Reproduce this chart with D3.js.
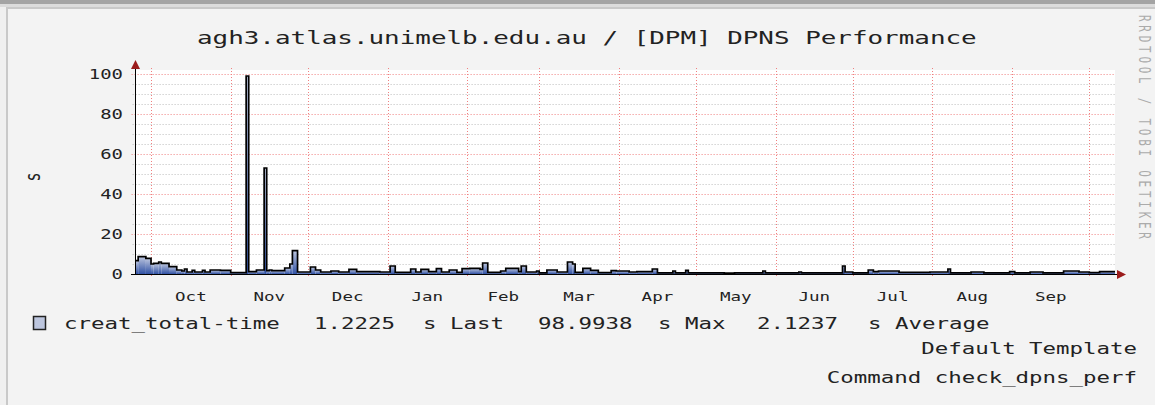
<!DOCTYPE html>
<meta charset="utf-8">
<body style="margin:0">
<script src="https://d3js.org/d3.v7.min.js"></script>
<script>

// step series: value holds from its date until the next one
var changeDates = [
  '2008-09-25','2008-09-26','2008-09-29','2008-10-01','2008-10-02','2008-10-04','2008-10-05','2008-10-08',
  '2008-10-11','2008-10-13','2008-10-14','2008-10-15','2008-10-17','2008-10-18','2008-10-21','2008-10-22',
  '2008-10-24','2008-10-28','2008-11-01','2008-11-07','2008-11-08','2008-11-11','2008-11-14','2008-11-15',
  '2008-11-16','2008-11-17','2008-11-22','2008-11-24','2008-11-25','2008-11-27','2008-12-02','2008-12-04',
  '2008-12-06','2008-12-10','2008-12-13','2008-12-17','2008-12-20','2008-12-29','2009-01-02','2009-01-04',
  '2009-01-10','2009-01-12','2009-01-14','2009-01-17','2009-01-20','2009-01-22','2009-01-25','2009-01-28',
  '2009-01-30','2009-02-02','2009-02-06','2009-02-07','2009-02-09','2009-02-14','2009-02-16','2009-02-21',
  '2009-02-22','2009-02-24','2009-02-28','2009-03-01','2009-03-04','2009-03-08','2009-03-12','2009-03-14',
  '2009-03-15','2009-03-18','2009-03-21','2009-03-24','2009-03-29','2009-03-31','2009-04-05','2009-04-08',
  '2009-04-14','2009-04-16','2009-04-22','2009-04-23','2009-04-27','2009-04-28','2009-05-12','2009-05-16',
  '2009-05-27','2009-05-28','2009-06-10','2009-06-11','2009-06-27','2009-06-28','2009-07-01','2009-07-07',
  '2009-07-09','2009-07-11','2009-07-19','2009-07-31','2009-08-07','2009-08-08','2009-08-16','2009-08-21',
  '2009-08-31','2009-09-02','2009-09-08','2009-09-13','2009-09-21','2009-09-27','2009-10-01','2009-10-05'
];
var values = [
  6.7, 8.7, 7.8, 5.0, 5.3, 6.0, 5.3, 3.7,
  2.0, 1.5, 2.5, 1.0, 1.8, 1.0, 1.8, 1.0,
  2.0, 1.8, 0.7, 98.99, 1.2, 2.0, 53, 1.7,
  2.0, 1.7, 3.0, 5.0, 11.7, 1.0, 3.5, 2.0,
  1.0, 1.5, 1.0, 2.3, 1.2, 1.0, 4.0, 0.8,
  2.5, 1.0, 2.3, 1.2, 2.7, 1.0, 2.0, 0.8,
  2.7, 2.8, 2.3, 5.5, 0.8, 1.5, 2.8, 1.2,
  4.0, 1.0, 1.5, 0.6, 2.0, 1.0, 6.0, 5.0,
  0.8, 2.8, 1.8, 0.7, 1.7, 1.5, 1.0, 1.2,
  2.5, 0.6, 1.5, 0.6, 1.8, 0.6, 0.4, 0.6,
  1.5, 0.6, 1.0, 0.6, 4.0, 1.0, 0.6, 2.0,
  1.2, 1.5, 0.8, 1.0, 2.5, 0.6, 1.0, 0.6,
  1.2, 0.6, 1.0, 0.6, 1.5, 1.0, 0.7, 1.2
];
var endDate = '2009-10-11';
var yTicks = [0, 20, 40, 60, 80, 100];
var monthNames = ['Oct','Nov','Dec','Jan','Feb','Mar','Apr','May','Jun','Jul','Aug','Sep'];

var titleText = 'agh3.atlas.unimelb.edu.au / [DPM] DPNS Performance';
var legendParts = ['creat_total-time', '1.2225', 's Last', '98.9938', 's Max', '2.1237', 's Average'];
var footLines = ['Default Template', 'Command check_dpns_perf'];

var W = 1155, H = 405;
var MONO = 'DejaVu Sans Mono';
var SX = 1.4;   // the graph image is stretched sideways, so is its text

var svg = d3.select('body').append('svg')
  .attr('width', W).attr('height', H)
  .style('display', 'block');

var stretch = function(sel, sx) {
  sel.each(function() {
    var L = this.getComputedTextLength();
    d3.select(this).attr('textLength', L * sx).attr('lengthAdjust', 'spacingAndGlyphs');
  });
};

// page + image frame
svg.append('rect').attr('width', W).attr('height', H).attr('fill', '#f0f0f0');
svg.append('rect').attr('width', W).attr('height', 4).attr('fill', '#a4a4a4');
svg.append('rect').attr('y', 4).attr('width', W).attr('height', 3).attr('fill', '#dcdcdc');
svg.append('rect').attr('x', 6).attr('y', 7).attr('width', W - 6).attr('height', H - 7)
  .attr('fill', '#f3f3f3');
svg.append('rect').attr('x', 6).attr('y', 7).attr('width', 2).attr('height', H - 7).attr('fill', '#c9c9c9');
svg.append('rect').attr('x', 6).attr('y', 7).attr('width', W - 6).attr('height', 2).attr('fill', '#c9c9c9');

var parse = d3.utcParse('%Y-%m-%d');
var dates = changeDates.map(parse);
var t0 = dates[0], t1 = parse(endDate);

var x = d3.scaleUtc().domain([t0, t1]).range([135.6, 1115]);
var y = d3.scaleLinear().domain([0, 102]).range([274, 70]);

// canvas
svg.append('rect')
  .attr('x', x(t0)).attr('y', y(102))
  .attr('width', x(t1) - x(t0)).attr('height', y(0) - y(102))
  .attr('fill', '#ffffff');

// grid
var g = svg.append('g');
var minor = d3.range(5, 101, 5).filter(v => v % 20 != 0);
g.selectAll('.ymin').data(minor).enter().append('line')
  .attr('x1', x(t0) - 3).attr('x2', x(t1))
  .attr('y1', d => Math.round(y(d)) + 0.5).attr('y2', d => Math.round(y(d)) + 0.5)
  .attr('stroke', '#bdbdbd').attr('stroke-dasharray', '1,2');
g.selectAll('.ymaj').data(yTicks.slice(1)).enter().append('line')
  .attr('x1', x(t0) - 4).attr('x2', x(t1))
  .attr('y1', d => Math.round(y(d)) + 0.5).attr('y2', d => Math.round(y(d)) + 0.5)
  .attr('stroke', '#f08080').attr('stroke-dasharray', '1,2');

var months = d3.utcMonth.range(d3.utcMonth.ceil(t0), t1);
g.selectAll('.xgrid').data(months).enter().append('line')
  .attr('x1', d => Math.round(x(d)) + 0.5).attr('x2', d => Math.round(x(d)) + 0.5)
  .attr('y1', y(102) - 2).attr('y2', y(0) + 3)
  .attr('stroke', '#f08080').attr('stroke-dasharray', '1,2');

// gradient, one per bar (relative to its own height)
var defs = svg.append('defs');
var grad = defs.append('linearGradient').attr('id', 'grad')
  .attr('x1', 0).attr('y1', 0).attr('x2', 0).attr('y2', 1);
grad.append('stop').attr('offset', '0%').attr('stop-color', '#bdc6de');
grad.append('stop').attr('offset', '100%').attr('stop-color', '#3152a5');

var bars = dates.map((d, i) => ({
  a: d, b: i + 1 < dates.length ? dates[i + 1] : t1, v: values[i]
}));

svg.append('g').selectAll('rect').data(bars).enter().append('rect')
  .attr('x', d => x(d.a))
  .attr('width', d => x(d.b) - x(d.a))
  .attr('y', d => y(d.v))
  .attr('height', d => y(0) - y(d.v))
  .attr('fill', 'url(#grad)');

// step line on top
var pts = [];
bars.forEach(d => { pts.push([x(d.a), y(d.v)]); pts.push([x(d.b), y(d.v)]); });
svg.append('path')
  .attr('d', d3.line()(pts))
  .attr('fill', 'none').attr('stroke', '#000').attr('stroke-width', 1.7);

// axes
svg.append('line').attr('x1', 135.5).attr('x2', 135.5).attr('y1', 274.5).attr('y2', 66)
  .attr('stroke', '#000');
svg.append('line').attr('x1', 131).attr('x2', 1118).attr('y1', 274.5).attr('y2', 274.5)
  .attr('stroke', '#000');
svg.append('path').attr('d', 'M135.5,60 L131,69 L140,69 Z').attr('fill', '#9b1b1b');
svg.append('path').attr('d', 'M1126,274.5 L1117,270 L1117,279 Z').attr('fill', '#9b1b1b');

// y tick labels
svg.selectAll('.yl').data(yTicks).enter().append('text')
  .attr('x', 123).attr('y', d => y(d) + 5)
  .attr('text-anchor', 'end')
  .attr('font-family', MONO).attr('font-size', 14).attr('fill', '#222')
  .text(d => d)
  .call(stretch, 1.35);

// month labels, centred in each month
svg.selectAll('.ml').data(months).enter().append('text')
  .attr('x', d => (x(d) + x(d3.utcMonth.offset(d, 1))) / 2)
  .attr('y', 301)
  .attr('text-anchor', 'middle')
  .attr('font-family', MONO).attr('font-size', 12.5).attr('fill', '#222')
  .text((d, i) => monthNames[i])
  .call(stretch, SX);

// y axis title
svg.append('text')
  .attr('transform', 'translate(40,177) rotate(-90) scale(1,1.4)')
  .attr('text-anchor', 'middle')
  .attr('font-family', MONO).attr('font-size', 15).attr('fill', '#222')
  .text('s');

// title
svg.append('text')
  .attr('x', 197).attr('y', 44)
  .attr('font-family', MONO).attr('font-size', 18.5).attr('fill', '#222')
  .text(titleText)
  .call(stretch, SX);

// watermark
svg.append('text')
  .attr('transform', 'translate(1139,15) rotate(90) scale(1,1.4)')
  .attr('textLength', 224).attr('lengthAdjust', 'spacing')
  .attr('font-family', MONO).attr('font-size', 11).attr('fill', '#ababab')
  .text('RRDTOOL / TOBI OETIKER');

// legend
svg.append('rect').attr('x', 33.5).attr('y', 316.5).attr('width', 12).attr('height', 13)
  .attr('fill', '#bdc6de').attr('stroke', '#222').attr('stroke-width', 1.5);
var legX = [64, 314, 423, 538, 658, 757, 868];
svg.selectAll('.lg').data(legendParts).enter().append('text')
  .attr('x', (d, i) => legX[i]).attr('y', 329)
  .attr('font-family', MONO).attr('font-size', 16).attr('fill', '#222')
  .text(d => d)
  .call(stretch, SX);

svg.selectAll('.ft').data(footLines).enter().append('text')
  .attr('x', 1137).attr('y', (d, i) => 354 + i * 29)
  .attr('text-anchor', 'end')
  .attr('font-family', MONO).attr('font-size', 16).attr('fill', '#222')
  .text(d => d)
  .call(stretch, SX);

</script>
</body>
</html>
